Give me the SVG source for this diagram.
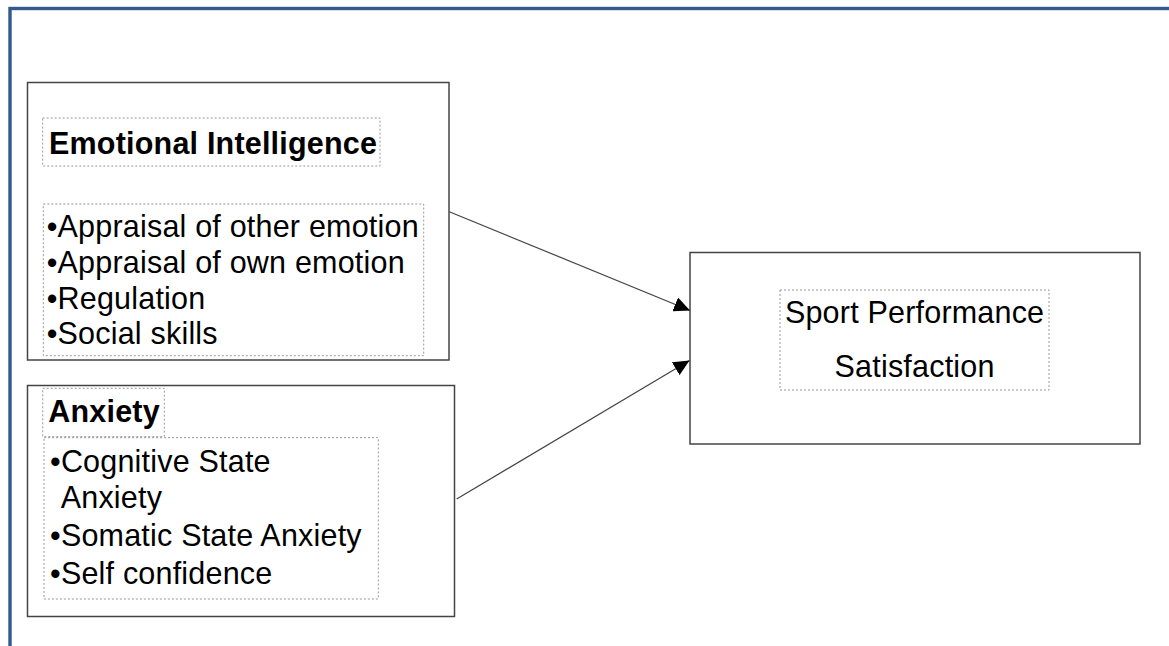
<svg xmlns="http://www.w3.org/2000/svg" width="1169" height="646" viewBox="0 0 1169 646">
  <style>
    .node { fill: #ffffff; stroke: #444444; stroke-width: 1.5; }
    .dot { fill: none; stroke: #999999; stroke-width: 1; stroke-dasharray: 2 2; }
    .t { font-family: "Liberation Sans", Arial, sans-serif; font-size: 30.5px; fill: #000000; letter-spacing: 0.2px; }
    .b { font-weight: bold; }
    .conn { stroke: #444444; stroke-width: 1.2; fill: none; }
  </style>
  <defs>
    <marker id="arrow" markerUnits="userSpaceOnUse" markerWidth="17" markerHeight="15" refX="16" refY="7.5" orient="auto">
      <path d="M0,0 L16,7.5 L0,15 Z" fill="#000000"/>
    </marker>
  </defs>
  <rect x="0" y="0" width="1169" height="646" fill="#ffffff"/>
  <rect x="10" y="8.5" width="1200" height="700" fill="none" stroke="#33598f" stroke-width="3.4"/>

  <g id="emotional-intelligence">
    <rect class="node" x="27.5" y="82.5" width="421.5" height="277.5"/>
    <rect class="dot" x="42.7" y="118" width="337.3" height="48"/>
    <text class="t b" x="49" y="154">Emotional Intelligence</text>
    <rect class="dot" x="43.3" y="204" width="380.4" height="151.7"/>
    <text class="t" x="46.7" y="237">•Appraisal of other emotion</text>
    <text class="t" x="46.7" y="273">•Appraisal of own emotion</text>
    <text class="t" x="46.7" y="309">•Regulation</text>
    <text class="t" x="46.7" y="343.5">•Social skills</text>
  </g>

  <g id="anxiety">
    <rect class="node" x="27.5" y="385.5" width="427" height="231"/>
    <rect class="dot" x="42.7" y="388.3" width="121.6" height="48.4"/>
    <text class="t b" x="48.3" y="422.3">Anxiety</text>
    <rect class="dot" x="44" y="437.7" width="334.3" height="161.3"/>
    <text class="t" x="50" y="471.7">•Cognitive State</text>
    <text class="t" x="60.7" y="508.3">Anxiety</text>
    <text class="t" x="50" y="546">•Somatic State Anxiety</text>
    <text class="t" x="50" y="584">•Self confidence</text>
  </g>

  <g id="sport-performance">
    <rect class="node" x="690" y="252.5" width="450" height="191.5"/>
    <rect class="dot" x="780" y="290" width="269" height="100"/>
    <text class="t" x="914.6" y="322.7" text-anchor="middle">Sport Performance</text>
    <text class="t" x="914.6" y="376.7" text-anchor="middle">Satisfaction</text>
  </g>

  <g id="connectors">
    <line class="conn" x1="449.3" y1="211.7" x2="690" y2="310.5" marker-end="url(#arrow)"/>
    <line class="conn" x1="456.7" y1="499" x2="689.5" y2="360.5" marker-end="url(#arrow)"/>
  </g>
</svg>
